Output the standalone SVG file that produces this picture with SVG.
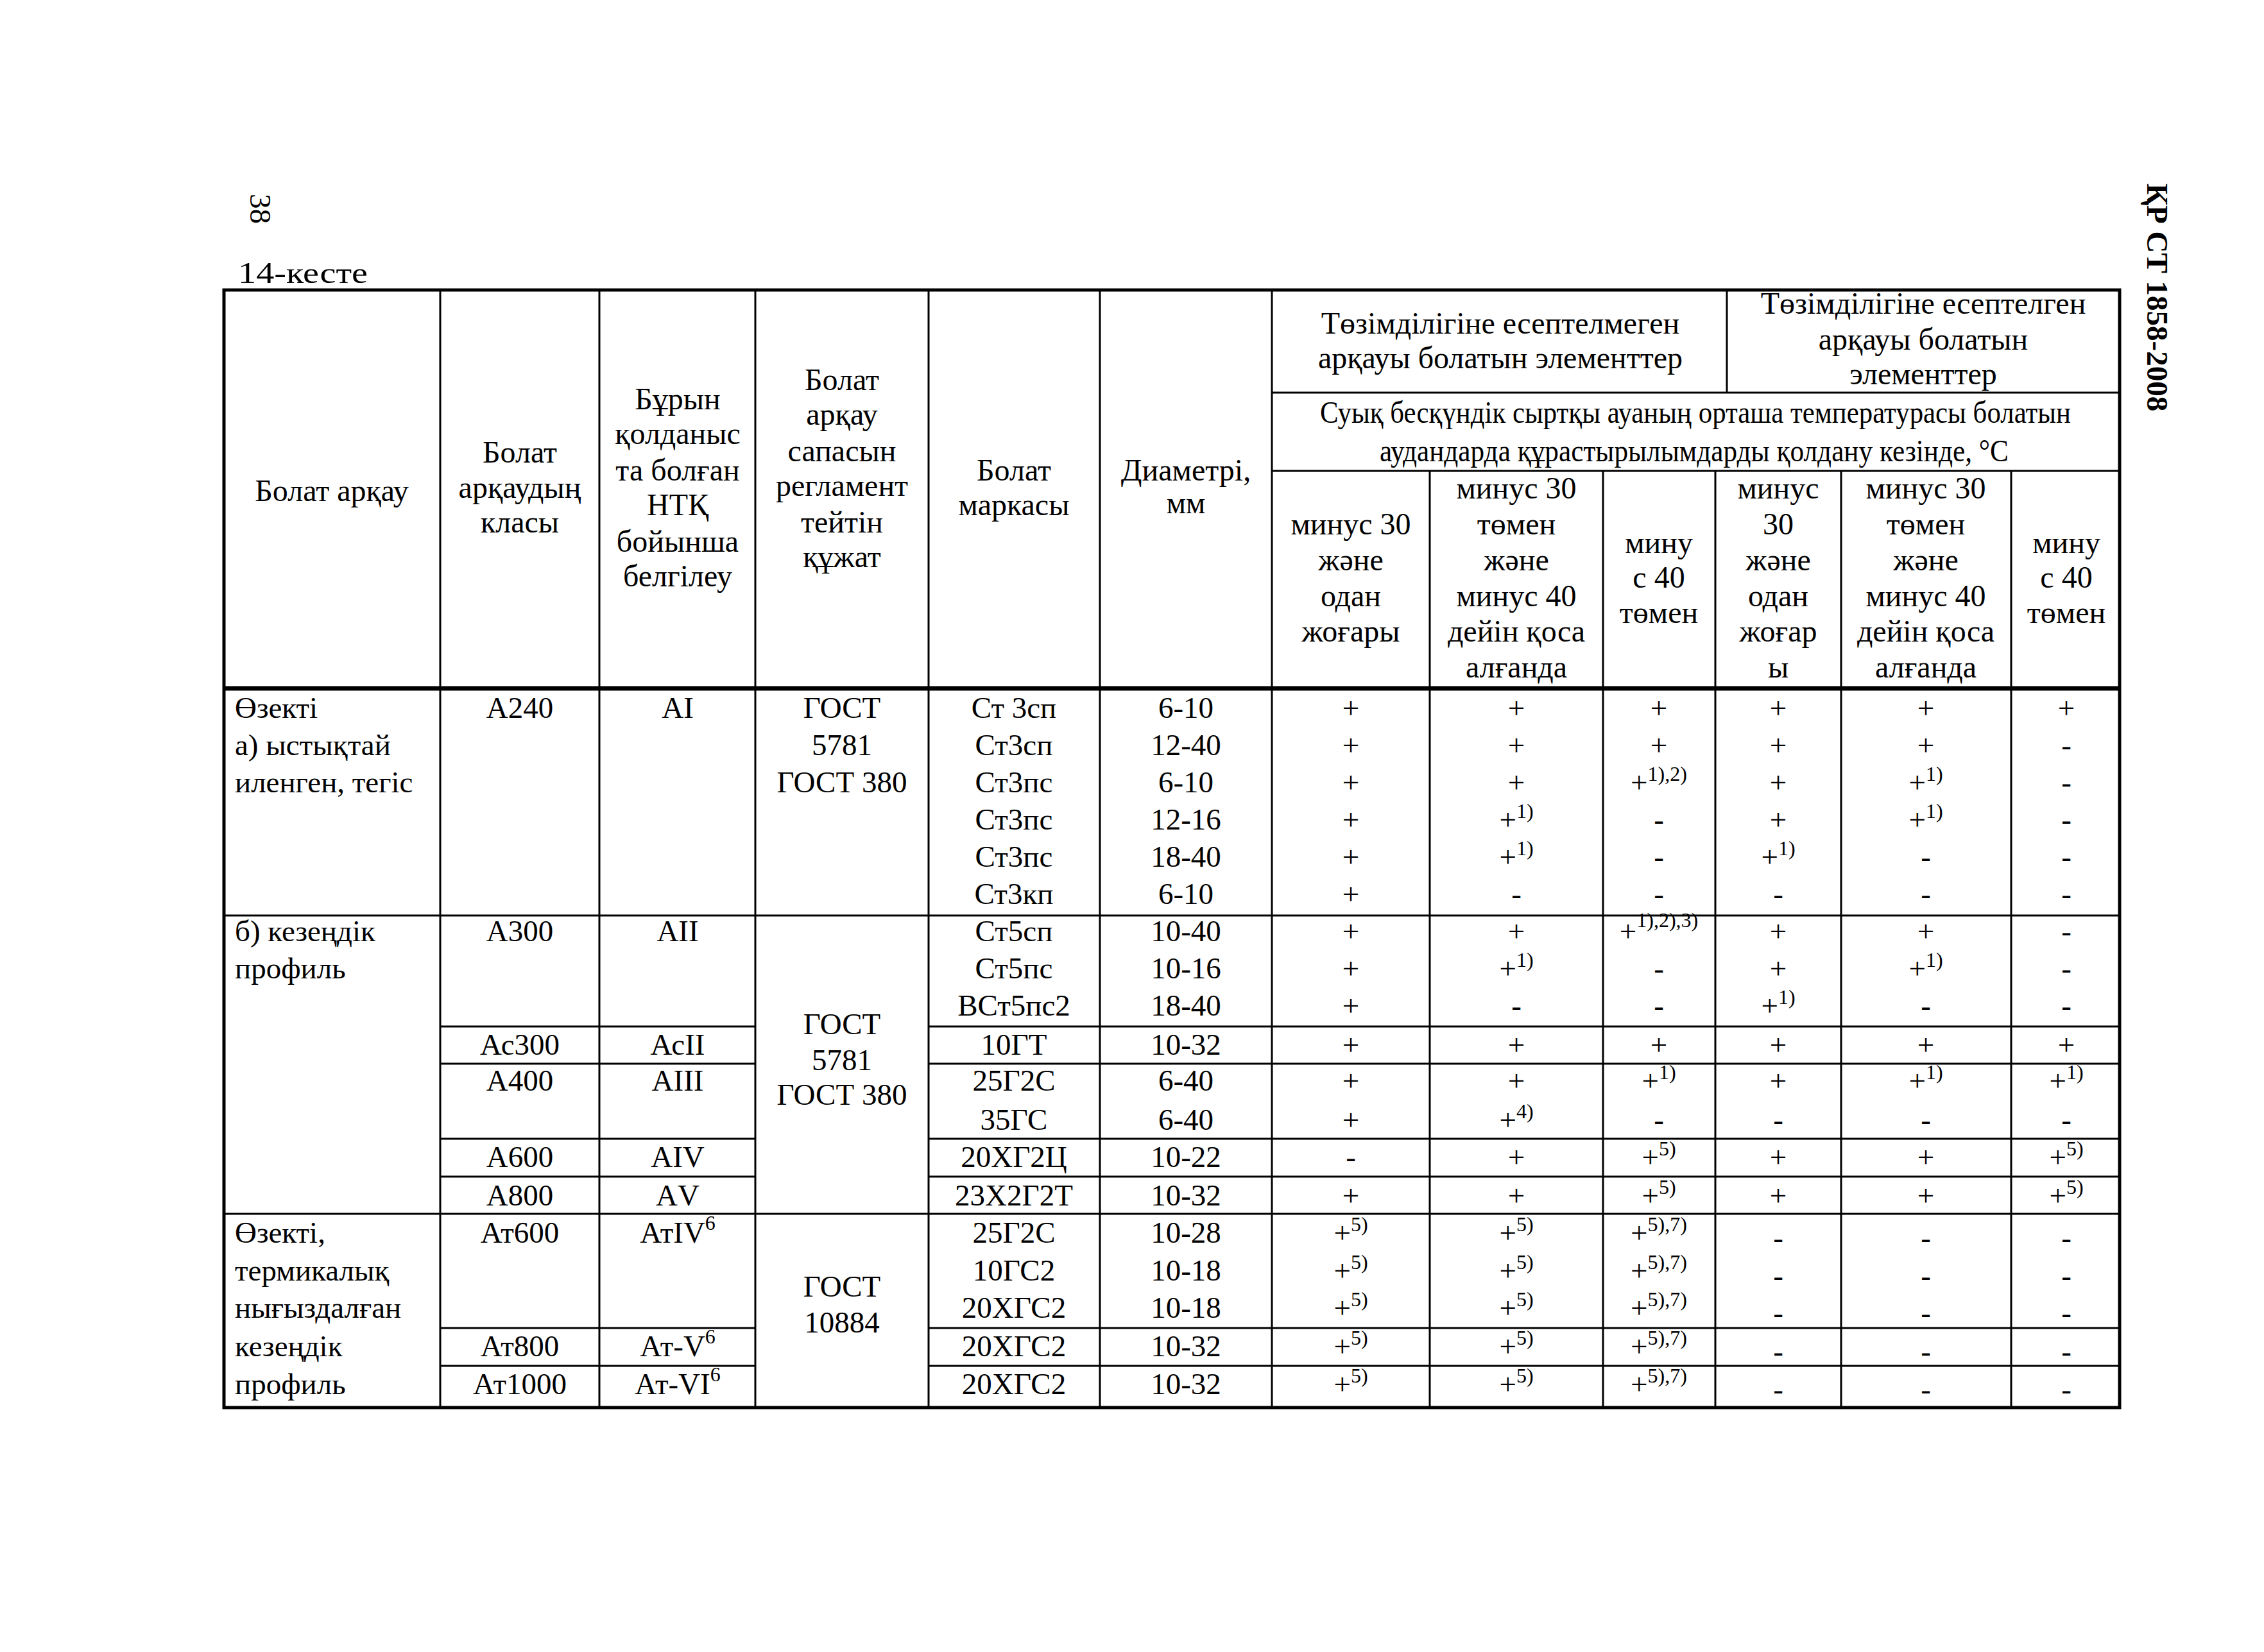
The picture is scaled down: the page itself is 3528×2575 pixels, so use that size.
<svg xmlns="http://www.w3.org/2000/svg" width="3528" height="2575" viewBox="0 0 3528 2575">
<style>
text{font-family:"Liberation Serif","Times New Roman",serif;font-size:47px;fill:#000}
.c{text-anchor:middle}
.hd{font-size:48px}
.b{font-weight:bold}
.ln{stroke:#000;stroke-width:3;fill:none}
.bd{stroke:#000;stroke-width:5;fill:none}
.hb{stroke:#000;stroke-width:7;fill:none}
</style>
<rect x="0" y="0" width="3528" height="2575" fill="#fff"/>
<g id="page-number"><text x="390" y="302" transform="rotate(90 390 302)" font-size="62">38</text></g>
<g id="doc-code"><text x="3346" y="286" class="b" transform="rotate(90 3346 286)" font-size="61">ҚР СТ 1858-2008</text></g>
<g id="table-title"><text x="371" y="441" font-size="58" textLength="202" lengthAdjust="spacingAndGlyphs">14-кесте</text></g>

<g id="connectors">
<rect class="bd" x="349" y="452" width="2954" height="1742"/>
<line class="hb" x1="349" y1="1073" x2="3303" y2="1073"/>
<path class="ln" d="M686 452V2194M934 452V2194M1177 452V2194M1447 452V2194M1714 452V2194M1982 452V2194"/>
<path class="ln" d="M2228 734V2194M2498 734V2194M2673 734V2194M2869 734V2194M3134 734V2194M2691 452V612"/>
<path class="ln" d="M1982 612H3303M1982 734H3303"/>
<path class="ln" d="M349 1427H3303M349 1892H3303"/>
<path class="ln" d="M686 1600H1177M1447 1600H3303M686 1658H1177M1447 1658H3303M686 1775H1177M1447 1775H3303M686 1834H1177M1447 1834H3303M686 2070H1177M1447 2070H3303M686 2129H1177M1447 2129H3303"/>
</g>

<g id="header">
<g id="h-bolat-arqau"><text class="c hd" x="517" y="781">Болат арқау</text></g>
<g id="h-class"><text class="c hd" x="810" y="721">Болат</text><text class="c hd" x="810" y="776">арқаудың</text><text class="c hd" x="810" y="830">класы</text></g>
<g id="h-ntk"><text class="c hd" x="1056" y="638">Бұрын</text><text class="c hd" x="1056" y="692">қолданыс</text><text class="c hd" x="1056" y="749">та болған</text><text class="c hd" x="1056" y="803">НТҚ</text><text class="c hd" x="1056" y="860">бойынша</text><text class="c hd" x="1056" y="914">белгілеу</text></g>
<g id="h-doc"><text class="c hd" x="1312" y="608">Болат</text><text class="c hd" x="1312" y="662">арқау</text><text class="c hd" x="1312" y="719">сапасын</text><text class="c hd" x="1312" y="773">регламент</text><text class="c hd" x="1312" y="830">тейтін</text><text class="c hd" x="1312" y="884">құжат</text></g>
<g id="h-mark"><text class="c hd" x="1580" y="749">Болат</text><text class="c hd" x="1580" y="803">маркасы</text></g>
<g id="h-diam"><text class="c hd" x="1848" y="749">Диаметрі,</text><text class="c hd" x="1848" y="800">мм</text></g>
<g id="h-group1"><text class="c hd" x="2338" y="520">Төзімділігіне есептелмеген</text><text class="c hd" x="2338" y="574">арқауы болатын элементтер</text></g>
<g id="h-group2"><text class="c hd" x="2997" y="489">Төзімділігіне есептелген</text><text class="c hd" x="2997" y="545">арқауы болатын</text><text class="c hd" x="2997" y="599">элементтер</text></g>
<g id="h-temp"><text class="c hd" x="2642" y="659" textLength="1170" lengthAdjust="spacingAndGlyphs">Суық бесқүндік сыртқы ауаның орташа температурасы болатын</text><text class="c hd" x="2640" y="719" textLength="980" lengthAdjust="spacingAndGlyphs">аудандарда құрастырылымдарды қолдану кезінде, °C</text></g>
<g id="h-a"><text class="c hd" x="2105" y="833">минус 30</text><text class="c hd" x="2105" y="889">және</text><text class="c hd" x="2105" y="945">одан</text><text class="c hd" x="2105" y="1000">жоғары</text></g>
<g id="h-b"><text class="c hd" x="2363" y="777">минус 30</text><text class="c hd" x="2363" y="833">төмен</text><text class="c hd" x="2363" y="889">және</text><text class="c hd" x="2363" y="945">минус 40</text><text class="c hd" x="2363" y="1000">дейін қоса</text><text class="c hd" x="2363" y="1056">алғанда</text></g>
<g id="h-c"><text class="c hd" x="2585" y="862">мину</text><text class="c hd" x="2585" y="916">с 40</text><text class="c hd" x="2585" y="971">төмен</text></g>
<g id="h-d"><text class="c hd" x="2771" y="777">минус</text><text class="c hd" x="2771" y="833">30</text><text class="c hd" x="2771" y="889">және</text><text class="c hd" x="2771" y="945">одан</text><text class="c hd" x="2771" y="1000">жоғар</text><text class="c hd" x="2771" y="1056">ы</text></g>
<g id="h-e"><text class="c hd" x="3001" y="777">минус 30</text><text class="c hd" x="3001" y="833">төмен</text><text class="c hd" x="3001" y="889">және</text><text class="c hd" x="3001" y="945">минус 40</text><text class="c hd" x="3001" y="1000">дейін қоса</text><text class="c hd" x="3001" y="1056">алғанда</text></g>
<g id="h-f"><text class="c hd" x="3220" y="862">мину</text><text class="c hd" x="3220" y="916">с 40</text><text class="c hd" x="3220" y="971">төмен</text></g>
</g>

<g id="group-labels">
<g id="g-a"><text x="366" y="1119">Өзекті</text><text x="366" y="1177">а) ыстықтай</text><text x="366" y="1235">иленген, тегіс</text></g>
<g id="g-b"><text x="366" y="1467">б) кезеңдік</text><text x="366" y="1525">профиль</text></g>
<g id="g-c"><text x="366" y="1937">Өзекті,</text><text x="366" y="1996">термикалық</text><text x="366" y="2054">нығыздалған</text><text x="366" y="2114">кезеңдік</text><text x="366" y="2173">профиль</text></g>
</g>

<g id="classes">
<text class="c" x="810" y="1119">А240</text><text class="c" x="1056" y="1119">АI</text>
<text class="c" x="810" y="1467">А300</text><text class="c" x="1056" y="1467">АII</text>
<text class="c" x="810" y="1644">Ас300</text><text class="c" x="1056" y="1644">АсII</text>
<text class="c" x="810" y="1700">А400</text><text class="c" x="1056" y="1700">АIII</text>
<text class="c" x="810" y="1819">А600</text><text class="c" x="1056" y="1819">АIV</text>
<text class="c" x="810" y="1879">А800</text><text class="c" x="1056" y="1879">АV</text>
<text class="c" x="810" y="1937">Ат600</text><text class="c" x="1056" y="1937">АтIV<tspan dy="-20" font-size="32">6</tspan></text>
<text class="c" x="810" y="2114">Ат800</text><text class="c" x="1056" y="2114">Ат-V<tspan dy="-20" font-size="32">6</tspan></text>
<text class="c" x="810" y="2173">Ат1000</text><text class="c" x="1056" y="2173">Ат-VI<tspan dy="-20" font-size="32">6</tspan></text>
</g>

<g id="documents">
<text class="c" x="1312" y="1119">ГОСТ</text><text class="c" x="1312" y="1177">5781</text><text class="c" x="1312" y="1235">ГОСТ 380</text>
<text class="c" x="1312" y="1612">ГОСТ</text><text class="c" x="1312" y="1668">5781</text><text class="c" x="1312" y="1722">ГОСТ 380</text>
<text class="c" x="1312" y="2021">ГОСТ</text><text class="c" x="1312" y="2077">10884</text>
</g>

<g id="rows">
<g id="r1"><text class="c" x="1580" y="1119">Ст 3сп</text><text class="c" x="1848" y="1119">6-10</text><text class="c" x="2105" y="1119">+</text><text class="c" x="2363" y="1119">+</text><text class="c" x="2585" y="1119">+</text><text class="c" x="2771" y="1119">+</text><text class="c" x="3001" y="1119">+</text><text class="c" x="3220" y="1119">+</text></g>
<g id="r2"><text class="c" x="1580" y="1177">Ст3сп</text><text class="c" x="1848" y="1177">12-40</text><text class="c" x="2105" y="1177">+</text><text class="c" x="2363" y="1177">+</text><text class="c" x="2585" y="1177">+</text><text class="c" x="2771" y="1177">+</text><text class="c" x="3001" y="1177">+</text><text class="c" x="3220" y="1177">-</text></g>
<g id="r3"><text class="c" x="1580" y="1235">Ст3пс</text><text class="c" x="1848" y="1235">6-10</text><text class="c" x="2105" y="1235">+</text><text class="c" x="2363" y="1235">+</text><text class="c" x="2585" y="1235">+<tspan dy="-18" font-size="32">1),2)</tspan></text><text class="c" x="2771" y="1235">+</text><text class="c" x="3001" y="1235">+<tspan dy="-18" font-size="32">1)</tspan></text><text class="c" x="3220" y="1235">-</text></g>
<g id="r4"><text class="c" x="1580" y="1293">Ст3пс</text><text class="c" x="1848" y="1293">12-16</text><text class="c" x="2105" y="1293">+</text><text class="c" x="2363" y="1293">+<tspan dy="-18" font-size="32">1)</tspan></text><text class="c" x="2585" y="1293">-</text><text class="c" x="2771" y="1293">+</text><text class="c" x="3001" y="1293">+<tspan dy="-18" font-size="32">1)</tspan></text><text class="c" x="3220" y="1293">-</text></g>
<g id="r5"><text class="c" x="1580" y="1351">Ст3пс</text><text class="c" x="1848" y="1351">18-40</text><text class="c" x="2105" y="1351">+</text><text class="c" x="2363" y="1351">+<tspan dy="-18" font-size="32">1)</tspan></text><text class="c" x="2585" y="1351">-</text><text class="c" x="2771" y="1351">+<tspan dy="-18" font-size="32">1)</tspan></text><text class="c" x="3001" y="1351">-</text><text class="c" x="3220" y="1351">-</text></g>
<g id="r6"><text class="c" x="1580" y="1409">Ст3кп</text><text class="c" x="1848" y="1409">6-10</text><text class="c" x="2105" y="1409">+</text><text class="c" x="2363" y="1409">-</text><text class="c" x="2585" y="1409">-</text><text class="c" x="2771" y="1409">-</text><text class="c" x="3001" y="1409">-</text><text class="c" x="3220" y="1409">-</text></g>
<g id="r7"><text class="c" x="1580" y="1467">Ст5сп</text><text class="c" x="1848" y="1467">10-40</text><text class="c" x="2105" y="1467">+</text><text class="c" x="2363" y="1467">+</text><text class="c" x="2585" y="1467">+<tspan dy="-22" font-size="32">1),2),3)</tspan></text><text class="c" x="2771" y="1467">+</text><text class="c" x="3001" y="1467">+</text><text class="c" x="3220" y="1467">-</text></g>
<g id="r8"><text class="c" x="1580" y="1525">Ст5пс</text><text class="c" x="1848" y="1525">10-16</text><text class="c" x="2105" y="1525">+</text><text class="c" x="2363" y="1525">+<tspan dy="-18" font-size="32">1)</tspan></text><text class="c" x="2585" y="1525">-</text><text class="c" x="2771" y="1525">+</text><text class="c" x="3001" y="1525">+<tspan dy="-18" font-size="32">1)</tspan></text><text class="c" x="3220" y="1525">-</text></g>
<g id="r9"><text class="c" x="1580" y="1583">ВСт5пс2</text><text class="c" x="1848" y="1583">18-40</text><text class="c" x="2105" y="1583">+</text><text class="c" x="2363" y="1583">-</text><text class="c" x="2585" y="1583">-</text><text class="c" x="2771" y="1583">+<tspan dy="-18" font-size="32">1)</tspan></text><text class="c" x="3001" y="1583">-</text><text class="c" x="3220" y="1583">-</text></g>
<g id="r10"><text class="c" x="1580" y="1644">10ГТ</text><text class="c" x="1848" y="1644">10-32</text><text class="c" x="2105" y="1644">+</text><text class="c" x="2363" y="1644">+</text><text class="c" x="2585" y="1644">+</text><text class="c" x="2771" y="1644">+</text><text class="c" x="3001" y="1644">+</text><text class="c" x="3220" y="1644">+</text></g>
<g id="r11"><text class="c" x="1580" y="1700">25Г2С</text><text class="c" x="1848" y="1700">6-40</text><text class="c" x="2105" y="1700">+</text><text class="c" x="2363" y="1700">+</text><text class="c" x="2585" y="1700">+<tspan dy="-18" font-size="32">1)</tspan></text><text class="c" x="2771" y="1700">+</text><text class="c" x="3001" y="1700">+<tspan dy="-18" font-size="32">1)</tspan></text><text class="c" x="3220" y="1700">+<tspan dy="-18" font-size="32">1)</tspan></text></g>
<g id="r12"><text class="c" x="1580" y="1761">35ГС</text><text class="c" x="1848" y="1761">6-40</text><text class="c" x="2105" y="1761">+</text><text class="c" x="2363" y="1761">+<tspan dy="-18" font-size="32">4)</tspan></text><text class="c" x="2585" y="1761">-</text><text class="c" x="2771" y="1761">-</text><text class="c" x="3001" y="1761">-</text><text class="c" x="3220" y="1761">-</text></g>
<g id="r13"><text class="c" x="1580" y="1819">20ХГ2Ц</text><text class="c" x="1848" y="1819">10-22</text><text class="c" x="2105" y="1819">-</text><text class="c" x="2363" y="1819">+</text><text class="c" x="2585" y="1819">+<tspan dy="-18" font-size="32">5)</tspan></text><text class="c" x="2771" y="1819">+</text><text class="c" x="3001" y="1819">+</text><text class="c" x="3220" y="1819">+<tspan dy="-18" font-size="32">5)</tspan></text></g>
<g id="r14"><text class="c" x="1580" y="1879">23Х2Г2Т</text><text class="c" x="1848" y="1879">10-32</text><text class="c" x="2105" y="1879">+</text><text class="c" x="2363" y="1879">+</text><text class="c" x="2585" y="1879">+<tspan dy="-18" font-size="32">5)</tspan></text><text class="c" x="2771" y="1879">+</text><text class="c" x="3001" y="1879">+</text><text class="c" x="3220" y="1879">+<tspan dy="-18" font-size="32">5)</tspan></text></g>
<g id="r15"><text class="c" x="1580" y="1937">25Г2С</text><text class="c" x="1848" y="1937">10-28</text><text class="c" x="2105" y="1937">+<tspan dy="-18" font-size="32">5)</tspan></text><text class="c" x="2363" y="1937">+<tspan dy="-18" font-size="32">5)</tspan></text><text class="c" x="2585" y="1937">+<tspan dy="-18" font-size="32">5),7)</tspan></text><text class="c" x="2771" y="1945">-</text><text class="c" x="3001" y="1945">-</text><text class="c" x="3220" y="1945">-</text></g>
<g id="r16"><text class="c" x="1580" y="1996">10ГС2</text><text class="c" x="1848" y="1996">10-18</text><text class="c" x="2105" y="1996">+<tspan dy="-18" font-size="32">5)</tspan></text><text class="c" x="2363" y="1996">+<tspan dy="-18" font-size="32">5)</tspan></text><text class="c" x="2585" y="1996">+<tspan dy="-18" font-size="32">5),7)</tspan></text><text class="c" x="2771" y="2004">-</text><text class="c" x="3001" y="2004">-</text><text class="c" x="3220" y="2004">-</text></g>
<g id="r17"><text class="c" x="1580" y="2054">20ХГС2</text><text class="c" x="1848" y="2054">10-18</text><text class="c" x="2105" y="2054">+<tspan dy="-18" font-size="32">5)</tspan></text><text class="c" x="2363" y="2054">+<tspan dy="-18" font-size="32">5)</tspan></text><text class="c" x="2585" y="2054">+<tspan dy="-18" font-size="32">5),7)</tspan></text><text class="c" x="2771" y="2062">-</text><text class="c" x="3001" y="2062">-</text><text class="c" x="3220" y="2062">-</text></g>
<g id="r18"><text class="c" x="1580" y="2114">20ХГС2</text><text class="c" x="1848" y="2114">10-32</text><text class="c" x="2105" y="2114">+<tspan dy="-18" font-size="32">5)</tspan></text><text class="c" x="2363" y="2114">+<tspan dy="-18" font-size="32">5)</tspan></text><text class="c" x="2585" y="2114">+<tspan dy="-18" font-size="32">5),7)</tspan></text><text class="c" x="2771" y="2122">-</text><text class="c" x="3001" y="2122">-</text><text class="c" x="3220" y="2122">-</text></g>
<g id="r19"><text class="c" x="1580" y="2173">20ХГС2</text><text class="c" x="1848" y="2173">10-32</text><text class="c" x="2105" y="2173">+<tspan dy="-18" font-size="32">5)</tspan></text><text class="c" x="2363" y="2173">+<tspan dy="-18" font-size="32">5)</tspan></text><text class="c" x="2585" y="2173">+<tspan dy="-18" font-size="32">5),7)</tspan></text><text class="c" x="2771" y="2181">-</text><text class="c" x="3001" y="2181">-</text><text class="c" x="3220" y="2181">-</text></g>
</g>
</svg>
